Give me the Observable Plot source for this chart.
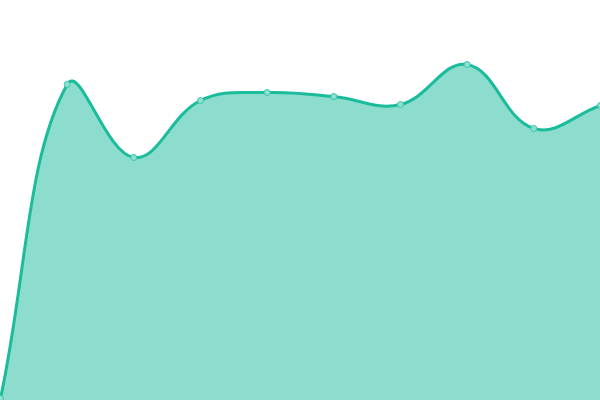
<!DOCTYPE html>
<html>
<head>
<meta charset="utf-8">
<script src="https://cdn.jsdelivr.net/npm/d3@7"></script>
<script src="https://cdn.jsdelivr.net/npm/@observablehq/plot@0.6"></script>
<style>
  html, body { margin: 0; padding: 0; background: #fff; }
  #chart svg { display: block; }
</style>
</head>
<body>
<div id="chart"></div>
<script>
const categories = [0, 1, 2, 3, 4, 5, 6, 7, 8, 9];
const values = [2, 316, 243, 300, 308, 304, 296, 336, 272, 295];

const data = categories.map((c, i) => ({x: c, y: values[i]}));

const W = 600, H = 400;

// Distance-weighted cubic Bézier spline (tension 0.4), with control points kept inside the frame.
function splineCurve(tension) {
  return function(context) {
    return {
      _line: NaN,
      areaStart() { this._line = 0; },
      areaEnd() { this._line = NaN; },
      lineStart() { this._x = []; this._y = []; },
      point(x, y) { this._x.push(+x); this._y.push(+y); },
      lineEnd() {
        const X = this._x, Y = this._y, n = X.length, c = context;
        const clampX = v => Math.max(0, Math.min(W, v));
        const clampY = v => Math.max(0, Math.min(H, v));
        if (n) {
          if (this._line) c.lineTo(X[0], Y[0]); else c.moveTo(X[0], Y[0]);
          if (n === 2) c.lineTo(X[1], Y[1]);
          else if (n > 2) {
            const pc = [], nc = [];
            for (let i = 0; i < n; ++i) {
              const p = i > 0 ? i - 1 : i, q = i < n - 1 ? i + 1 : i;
              const d01 = Math.hypot(X[i] - X[p], Y[i] - Y[p]);
              const d12 = Math.hypot(X[q] - X[i], Y[q] - Y[i]);
              let s01 = d01 / (d01 + d12), s12 = d12 / (d01 + d12);
              if (!isFinite(s01)) s01 = 0;
              if (!isFinite(s12)) s12 = 0;
              const fa = tension * s01, fb = tension * s12;
              pc.push([clampX(X[i] - fa * (X[q] - X[p])), clampY(Y[i] - fa * (Y[q] - Y[p]))]);
              nc.push([clampX(X[i] + fb * (X[q] - X[p])), clampY(Y[i] + fb * (Y[q] - Y[p]))]);
            }
            for (let i = 1; i < n; ++i) {
              c.bezierCurveTo(nc[i - 1][0], nc[i - 1][1], pc[i][0], pc[i][1], X[i], Y[i]);
            }
          }
        }
        if (this._line || (this._line !== 0 && n === 1)) c.closePath();
        this._line = 1 - this._line;
      }
    };
  };
}

const curve = splineCurve(0.4);

const chart = Plot.plot({
  width: W,
  height: H,
  margin: 0,
  x: {domain: [0, 9], axis: null},
  y: {domain: [0, 400], axis: null},
  marks: [
    Plot.areaY(data, {x: "x", y: "y", curve, fill: "#1abc9c", fillOpacity: 0.5}),
    Plot.lineY(data, {x: "x", y: "y", curve, stroke: "#1abc9c", strokeWidth: 3}),
    Plot.dot(data, {x: "x", y: "y", r: 3, fill: "#8de0cf", stroke: "#3fc6a8", strokeWidth: 1})
  ]
});
document.getElementById("chart").appendChild(chart);
</script>
</body>
</html>
